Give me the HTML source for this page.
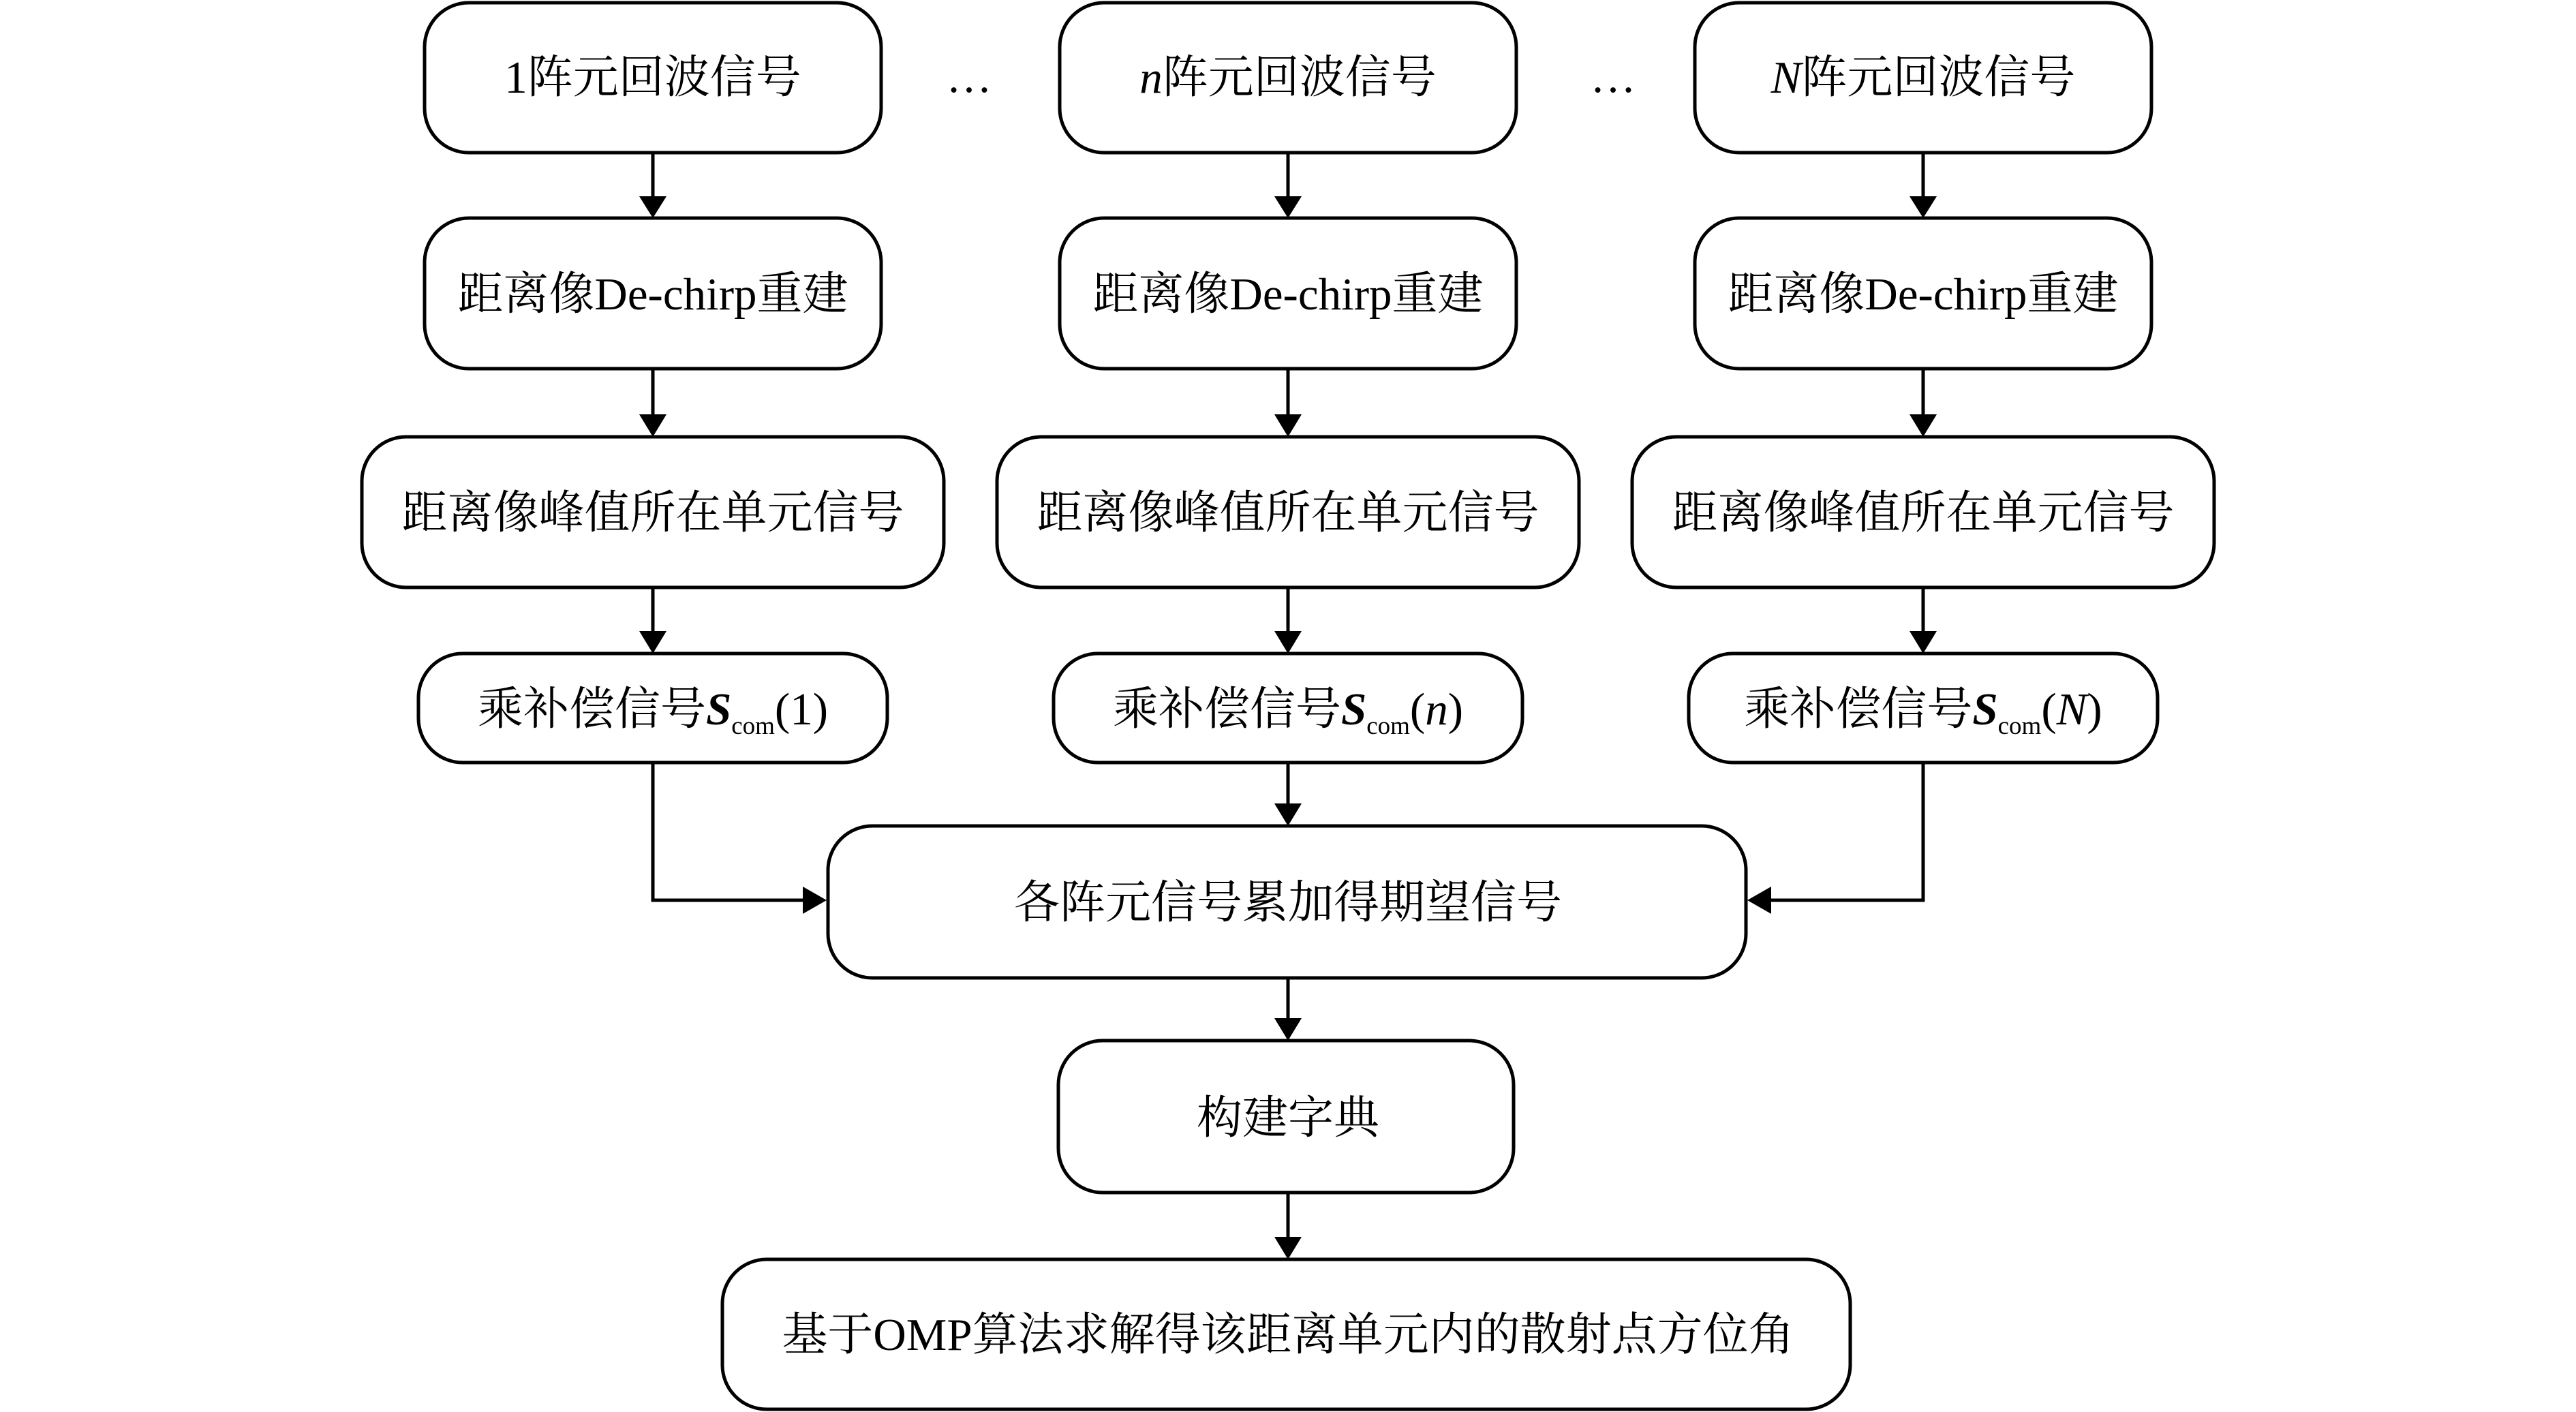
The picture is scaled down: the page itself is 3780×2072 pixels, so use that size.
<!DOCTYPE html>
<html><head><meta charset="utf-8"><style>
html,body{margin:0;padding:0;background:#fff;}
svg{display:block}
text{font-family:"Liberation Serif","Noto Serif CJK SC",serif;font-size:67px;fill:#000;}
</style></head><body>
<svg width="3780" height="2072" viewBox="0 0 3780 2072" xmlns="http://www.w3.org/2000/svg">
<g fill="none" stroke="#000" stroke-width="5">
<rect x="623" y="4" width="670" height="220" rx="65"/>
<rect x="1555" y="4" width="670" height="220" rx="65"/>
<rect x="2487" y="4" width="670" height="220" rx="65"/>
<rect x="623" y="320" width="670" height="221" rx="65"/>
<rect x="1555" y="320" width="670" height="221" rx="65"/>
<rect x="2487" y="320" width="670" height="221" rx="65"/>
<rect x="531" y="641" width="854" height="221" rx="65"/>
<rect x="1463" y="641" width="854" height="221" rx="65"/>
<rect x="2395" y="641" width="854" height="221" rx="65"/>
<rect x="614" y="959" width="688" height="160" rx="65"/>
<rect x="1546" y="959" width="688" height="160" rx="65"/>
<rect x="2478" y="959" width="688" height="160" rx="65"/>
<rect x="1215" y="1212" width="1347" height="223" rx="65"/>
<rect x="1553" y="1527" width="668" height="223" rx="65"/>
<rect x="1060" y="1848" width="1655" height="220" rx="65"/>
<path d="M958 224V290M1890 224V290M2822 224V290"/>
<path d="M958 541V610M1890 541V610M2822 541V610"/>
<path d="M958 862V928M1890 862V928M2822 862V928"/>
<path d="M958 1119V1321H1180M2822 1119V1321H2597"/>
<path d="M1890 1119V1180M1890 1435V1497M1890 1750V1817"/>
</g>
<g fill="#000">
<path d="M938 288L978 288L958 320Z M1870 288L1910 288L1890 320Z M2802 288L2842 288L2822 320Z"/>
<path d="M938 608L978 608L958 641Z M1870 608L1910 608L1890 641Z M2802 608L2842 608L2822 641Z"/>
<path d="M938 926L978 926L958 959Z M1870 926L1910 926L1890 959Z M2802 926L2842 926L2822 959Z"/>
<path d="M1870 1179L1910 1179L1890 1212Z M1870 1494L1910 1494L1890 1527Z M1870 1815L1910 1815L1890 1848Z"/>
<path d="M1178 1301L1178 1341L1213 1321Z M2599 1301L2599 1341L2564 1321Z"/>
</g>
<g text-anchor="middle">
<text x="958" y="136">1阵元回波信号</text>
<text x="1890" y="136"><tspan font-style="italic">n</tspan>阵元回波信号</text>
<text x="2822" y="136"><tspan font-style="italic">N</tspan>阵元回波信号</text>
<text x="1422" y="135">…</text>
<text x="2367" y="135">…</text>
<text x="958" y="454">距离像De-chirp重建</text>
<text x="1890" y="454">距离像De-chirp重建</text>
<text x="2822" y="454">距离像De-chirp重建</text>
<text x="958" y="775">距离像峰值所在单元信号</text>
<text x="1890" y="775">距离像峰值所在单元信号</text>
<text x="2822" y="775">距离像峰值所在单元信号</text>
<text x="958" y="1063">乘补偿信号<tspan font-weight="bold" font-style="italic">S</tspan><tspan font-size="37" dy="14">com</tspan><tspan dy="-14">(1)</tspan></text>
<text x="1890" y="1063">乘补偿信号<tspan font-weight="bold" font-style="italic">S</tspan><tspan font-size="37" dy="14">com</tspan><tspan dy="-14">(</tspan><tspan font-style="italic">n</tspan>)</text>
<text x="2822" y="1063">乘补偿信号<tspan font-weight="bold" font-style="italic">S</tspan><tspan font-size="37" dy="14">com</tspan><tspan dy="-14">(</tspan><tspan font-style="italic">N</tspan>)</text>
<text x="1890" y="1347">各阵元信号累加得期望信号</text>
<text x="1890" y="1663">构建字典</text>
<text x="1890" y="1981">基于OMP算法求解得该距离单元内的散射点方位角</text>
</g>
</svg>
</body></html>
